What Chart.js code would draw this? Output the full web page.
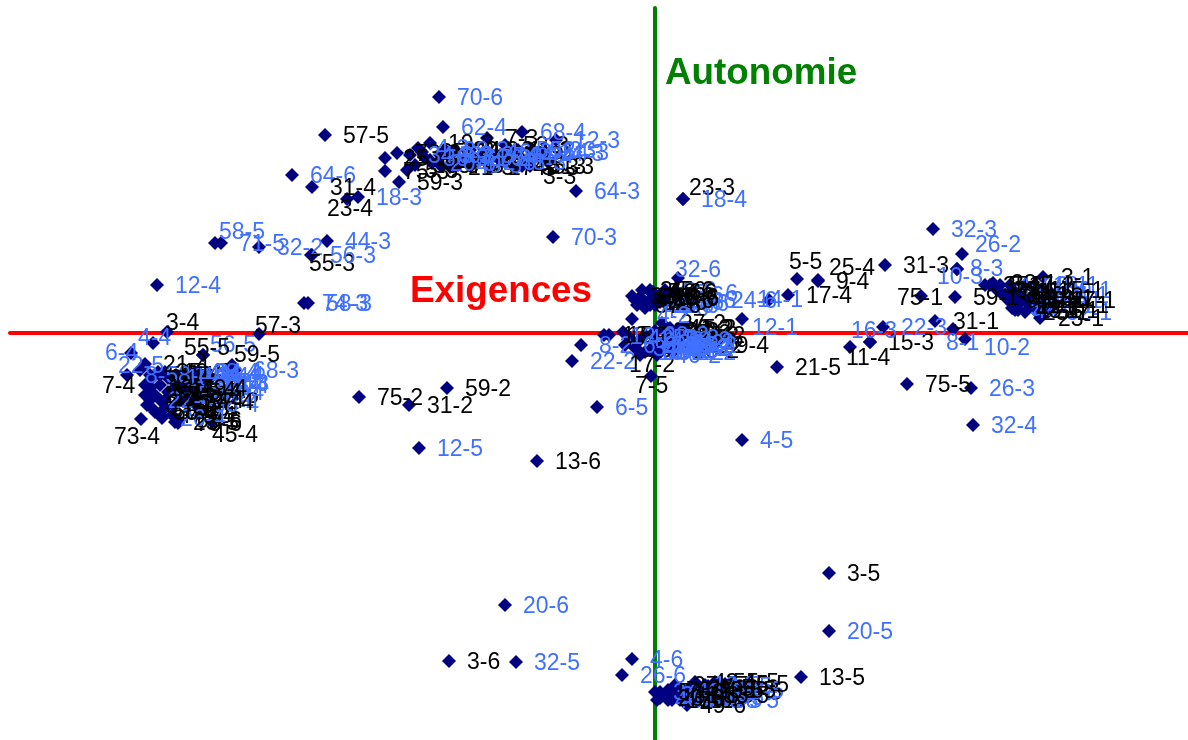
<!DOCTYPE html>
<html>
<head>
<meta charset="utf-8">
<title>Exigences / Autonomie</title>
<script src="https://cdn.jsdelivr.net/npm/chart.js@4/dist/chart.umd.min.js"></script>
<style>
    body { margin: 0; background: #fff; }
    canvas { display: block; }
</style>
</head>
<body>
<canvas id="myChart" width="1188" height="740"></canvas>
<script>
// Data (axis units, factors cross at 0,0)
const pointNames = [
    // scattered points
    '70-6', '62-4', '57-5', '64-6', '31-4', '23-4', '18-3', '58-5', '71-5', '32-2', '55-3', '56-3', '44-3', '12-4', '74-3', '58-3', '57-3', '64-3', '70-3',
    '75-2', '59-2', '31-2', '12-5', '13-6', '20-6', '3-6', '32-5', '4-6', '26-6', '6-5', '22-2', '8-2', '7-5',
    '23-3', '18-4', '32-6', '5-5', '25-4', '9-4', '31-3', '17-4', '14-1', '24-6', '12-1', '21-5', '4-5', '3-5', '20-5', '13-5',
    '11-4', '15-3', '16-3', '22-3', '31-1', '8-1', '10-2', '75-5', '26-3', '32-4', '75-1', '59-1', '32-3', '26-2', '10-3', '8-3',
    // top group
    '25-3', '75-3', '59-3', '19-3', '73-3', '5-3', '7-3', '13-3', '21-3', '9-3', '17-3', '11-3', '45-3', '3-3',
    '33-3', '35-3', '37-3', '39-3', '41-3', '43-3', '47-3', '49-3', '51-3', '53-3',
    '12-3', '68-4', '14-3', '4-3', '6-3', '20-3', '62-3', '71-3', '70-4', '74-4', '44-4',
    '34-3', '36-3', '38-3', '40-3', '42-3', '46-3', '48-3', '50-3', '52-3', '54-3',
    // left group
    '9-5', '11-5', '15-5', '17-5', '19-5', '25-5', '31-5', '73-5', '59-6', '75-6', '55-6',
    '33-4', '35-4', '37-4', '39-4', '41-4', '43-4', '47-4', '49-4', '51-4', '53-4',
    '22-5', '8-4', '10-4', '14-4', '16-4', '20-4', '24-3', '68-3', '22-4', '26-4', '58-4', '56-4', '4-4', '6-4', '56-5', '8-5',
    '34-4', '36-4', '38-4', '40-4', '42-4', '46-4', '48-4', '50-4',
    '3-4', '7-4', '73-4', '45-4', '55-5', '59-5', '21-4', '13-4', '15-4', '19-4', '5-4', '75-4', '59-4', '57-4', '55-4', '23-5',
    // centre, above the axis
    '10-6', '16-6', '22-6', '8-6', '58-6', '44-6', '34-6', '36-6', '38-6',
    '5-6', '7-6', '9-6', '11-6', '15-6', '19-6', '21-6', '25-6', '45-6', '33-6', '35-6', '37-6',
    // centre, on the axis
    '13-2', '15-2', '27-2', '3-2', '9-2', '5-2', '11-2', '19-2', '21-2', '23-2', '17-2', '29-4', '25-2',
    '33-2', '35-2', '37-2', '39-2', '41-2',
    '12-2', '4-2', '6-2', '14-2', '16-2', '18-2', '20-2', '24-2', '44-2', '56-2', '58-2', '62-2', '64-2', '68-2',
    '34-2', '36-2', '38-2', '40-2', '42-2', '46-2', '48-2', '50-2',
    // right group
    '4-1', '6-1', '10-1', '16-1', '18-1', '20-1', '22-1', '24-1', '26-1', '32-1', '44-1', '56-1',
    '3-1', '5-1', '7-1', '9-1', '11-1', '13-1', '15-1', '17-1', '19-1', '21-1', '23-1', '25-1', '45-1',
    '33-1', '35-1', '37-1', '39-1', '41-1', '43-1', '47-1', '49-1',
    // bottom group
    '34-5', '36-5', '38-5', '40-5',
    '37-5', '39-5', '41-5', '43-5', '47-5', '51-5', '53-5', '61-5',
    '68-5', '10-5', '14-5', '16-5', '18-5', '24-5', '44-5', '62-5', '64-5', '70-5',
    '57-6', '73-6', '31-6', '23-6', '17-6', '49-6', '45-5', '27-5', '29-5', '33-5', '35-5'
];
const pointX = [
    -2.16, -2.12, -3.30, -3.63, -3.43, -3.08, -2.97, -4.40, -4.34, -3.96, -3.44, -3.43, -3.28, -4.98, -3.51, -3.47, -3.96, -0.79, -1.02,
    -2.96, -2.08, -2.46, -2.36, -1.18, -1.50, -2.06, -1.39, -0.23, -0.33, -0.58, -0.83, -0.74, -0.04,
    0.28, 0.28, 0.23, 1.42, 1.63, 1.63, 2.30, 1.33, 1.14, 0.58, 0.87, 1.22, 0.87, 1.74, 1.74, 1.46,
    1.95, 2.15, 2.15, 2.28, 2.80, 2.98, 3.10, 2.52, 3.16, 3.18, 2.66, 3.00, 2.78, 3.07, 3.02, 3.02,

    -2.70, -2.70, -2.56, -2.25, -2.58, -2.48, -1.68, -2.25, -2.05, -1.85, -1.65, -1.45, -1.33, -1.07,
    -2.40, -2.33, -2.15, -2.00, -1.85, -1.75, -1.55, -1.40, -1.25, -1.50,
    -0.99, -1.33, -1.15, -2.37, -2.15, -2.23, -2.05, -1.90, -1.75, -1.60, -1.45,
    -2.45, -2.30, -2.10, -1.97, -1.83, -1.67, -1.53, -1.37, -1.23, -1.10,

    -5.03, -4.95, -5.10, -5.00, -4.90, -4.77, -5.03, -4.90, -4.77, -4.77, -4.60,
    -5.07, -4.97, -4.85, -5.08, -4.95, -4.87, -4.95, -4.83, -5.05, -4.80,
    -5.15, -4.95, -4.87, -4.79, -4.70, -4.60, -4.50, -4.20, -5.05, -4.93, -4.60, -4.75, -5.02, -5.24, -4.52, -5.28,
    -4.57, -4.55, -4.60, -4.58, -4.65, -4.50, -4.55, -4.67,
    -4.88, -5.10, -5.14, -4.43, -4.52, -4.23, -5.10, -5.05, -4.83, -4.72, -4.65, -4.90, -4.75, -4.65, -5.00, -4.80,

    0.05, 0.17, 0.00, 0.10, 0.19, -0.10, 0.10, 0.05, -0.05,
    -0.15, -0.05, -0.20, -0.10, 0.00, -0.02, -0.05, 0.00, -0.05, -0.23, -0.13, -0.18,

    -0.51, -0.46, 0.07, 0.10, 0.25, 0.30, 0.28, 0.10, 0.25, 0.20, -0.15, 0.50, 0.20,
    0.00, 0.12, 0.18, 0.05, 0.15,
    -0.32, -0.23, -0.30, -0.15, 0.00, -0.15, -0.05, 0.15, 0.15, 0.18, 0.12, -0.10, 0.05, 0.17,
    -0.20, -0.10, 0.05, 0.10, -0.25, 0.02, 0.12, 0.00,

    3.45, 3.57, 3.70, 3.65, 3.80, 3.93, 3.75, 3.90, 3.83, 3.93, 3.60, 3.57,
    3.88, 3.35, 3.45, 3.53, 3.63, 3.75, 3.85, 3.97, 3.90, 3.80, 3.85, 3.70, 3.60,
    3.38, 3.30, 3.42, 3.50, 3.57, 3.63, 3.55, 3.67,

    0.00, 0.08, 0.17, 0.02,
    0.20, 0.28, 0.35, 0.40, 0.50, 0.60, 0.63, 0.25,
    0.60, 0.25, 0.17, 0.30, 0.40, 0.45, 0.53, 0.65, 0.35, 0.43,
    0.05, 0.13, 0.20, 0.05, 0.13, 0.32, 0.70, 0.35, 0.45, 0.50, 0.57
];
const pointY = [
    2.36, 2.06, 1.98, 1.58, 1.46, 1.34, 1.36, 0.90, 0.90, 0.86, 0.78, 0.78, 0.92, 0.48, 0.30, 0.30, -0.01, 1.42, 0.96,
    -0.64, -0.55, -0.72, -1.15, -1.28, -2.72, -3.28, -3.29, -3.26, -3.42, -0.74, -0.28, -0.12, -0.43,
    1.34, 1.34, 0.55, 0.54, 0.53, 0.52, 0.68, 0.38, 0.33, 0.33, 0.14, -0.34, -1.07, -2.40, -2.98, -3.44,
    -0.14, -0.09, -0.09, 0.06, 0.12, 0.04, -0.06, -0.51, -0.55, -0.92, 0.37, 0.36, 1.04, 0.79, 0.64, 0.64,

    1.75, 1.62, 1.51, 1.90, 1.80, 1.63, 1.95, 1.73, 1.66, 1.68, 1.66, 1.83, 1.67, 1.71,
    1.68, 1.81, 1.68, 1.83, 1.83, 1.73, 1.78, 1.66, 1.67, 1.88,
    1.93, 2.01, 1.80, 1.85, 1.78, 1.70, 1.78, 1.75, 1.75, 1.77, 1.78,
    1.78, 1.75, 1.83, 1.68, 1.71, 1.81, 1.71, 1.83, 1.83, 1.81,

    -0.45, -0.52, -0.62, -0.62, -0.39, -0.52, -0.75, -0.75, -0.87, -0.90, -0.62,
    -0.52, -0.39, -0.45, -0.72, -0.67, -0.59, -0.82, -0.82, -0.42, -0.72,
    -0.37, -0.42, -0.45, -0.42, -0.43, -0.45, -0.50, -0.37, -0.67, -0.85, -0.71, -0.62, -0.10, -0.20, -0.22, -0.42,
    -0.39, -0.42, -0.39, -0.52, -0.52, -0.52, -0.59, -0.65,
    0.01, -0.52, -0.86, -0.89, -0.22, -0.32, -0.31, -0.55, -0.57, -0.55, -0.59, -0.67, -0.67, -0.69, -0.79, -0.89,

    0.31, 0.33, 0.28, 0.43, 0.40, 0.25, 0.30, 0.38, 0.28,
    0.36, 0.41, 0.33, 0.31, 0.36, 0.41, 0.33, 0.35, 0.43, 0.37, 0.43, 0.28,

    -0.02, -0.02, 0.10, 0.03, 0.05, 0.05, -0.02, -0.07, -0.12, -0.17, -0.22, -0.12, -0.02,
    0.02, 0.00, -0.08, -0.12, 0.05,
    0.01, 0.14, -0.12, -0.07, -0.12, -0.19, -0.17, -0.09, -0.15, -0.12, -0.07, -0.02, -0.19, -0.19,
    -0.15, -0.19, -0.10, -0.15, -0.05, -0.22, -0.14, -0.05,

    0.48, 0.43, 0.48, 0.38, 0.48, 0.43, 0.28, 0.38, 0.33, 0.21, 0.23, 0.25,
    0.56, 0.48, 0.41, 0.33, 0.28, 0.35, 0.43, 0.33, 0.28, 0.23, 0.15, 0.21, 0.41,
    0.50, 0.48, 0.43, 0.38, 0.33, 0.23, 0.48, 0.33,

    -3.59, -3.62, -3.67, -3.67,
    -3.52, -3.57, -3.62, -3.49, -3.52, -3.49, -3.59, -3.67,
    -3.67, -3.59, -3.64, -3.64, -3.52, -3.64, -3.53, -3.57, -3.59, -3.67,
    -3.59, -3.57, -3.62, -3.65, -3.67, -3.72, -3.51, -3.55, -3.57, -3.62, -3.57
];
// Items whose labels are blue, all others are black
const blueItems = [4, 6, 8, 10, 12, 14, 16, 18, 20, 22, 24, 26, 32, 34, 36, 38, 40, 42, 44, 46, 48, 50, 52, 54, 56, 58, 62, 64, 68, 70, 71, 74];

const axisEnds = { x: [-6.45, 5.33], y: [-4.07, 3.25] };
const factorNames = ['Exigences', 'Autonomie'];
const factorX = [-2.45, 0.10];
const factorY = [0.41, 2.59];

// Labels go to the right of the point unless listed here: [dx, dy] in px
const labelOffset = {
    '3-4': [-1, -8], '4-4': [-15, -4], '6-4': [-26, 1], '22-5': [-22, -3], '7-4': [-43, 2], '73-4': [-27, 19],
    '45-4': [0, 14], '55-5': [-19, -6], '56-5': [7, -9], '59-5': [2, -9], '57-3': [-4, -7], '58-5': [4, -10],
    '23-4': [-20, 11], '55-3': [-2, 10], '75-1': [-24, 3], '10-3': [-20, 9], '8-3': [13, 1], '26-2': [13, -8],
    '16-3': [-19, -10], '11-4': [-4, 12], '8-1': [-7, 15], '10-2': [19, 10], '23-3': [6, -10], '32-6': [-3, -7],
    '5-5': [-8, -16], '25-4': [11, -11], '7-5': [-16, 11], '12-1': [10, 10], '14-1': [-12, 1], '3-3': [-5, 16],
    '17-2': [-11, 11], '12-2': [7, 6], '4-2': [25, -2], '49-6': [13, 2]
};

const pointLabels = {
    id: 'pointLabels',
    afterDatasetsDraw(chart) {
        const ctx = chart.ctx;
        const xScale = chart.scales.x;
        const yScale = chart.scales.y;
        ctx.save();
        ctx.textBaseline = 'middle';
        ctx.textAlign = 'left';
        ctx.font = '23px "Liberation Sans"';
        pointNames.forEach((name, i) => {
            const off = labelOffset[name] || [18, 2];
            ctx.fillStyle = blueItems.includes(parseInt(name)) ? '#4070ff' : '#000';
            ctx.fillText(name, xScale.getPixelForValue(pointX[i]) + off[0], yScale.getPixelForValue(pointY[i]) + off[1]);
        });
        ctx.font = 'bold 36.8px "Liberation Sans"';
        factorNames.forEach((name, i) => {
            ctx.fillStyle = i === 0 ? '#ff0000' : '#008000';
            ctx.fillText(name, xScale.getPixelForValue(factorX[i]), yScale.getPixelForValue(factorY[i]));
        });
        ctx.restore();
    }
};

new Chart(document.getElementById('myChart').getContext('2d'), {
    type: 'scatter',
    data: {
        datasets: [
            {
                data: pointX.map((x, i) => ({ x: x, y: pointY[i] })),
                pointStyle: 'rectRot',
                pointRadius: 7,
                backgroundColor: '#000080',
                borderWidth: 0,
                order: 1
            },
            {
                data: [{ x: axisEnds.x[0], y: 0 }, { x: axisEnds.x[1], y: 0 }],
                showLine: true,
                pointRadius: 0,
                borderColor: '#ff0000',
                borderWidth: 4,
                borderCapStyle: 'round',
                order: 2
            },
            {
                data: [{ x: 0, y: axisEnds.y[0] }, { x: 0, y: axisEnds.y[1] }],
                showLine: true,
                pointRadius: 0,
                borderColor: '#008000',
                borderWidth: 4,
                borderCapStyle: 'round',
                order: 2
            }
        ]
    },
    options: {
        responsive: false,
        animation: false,
        layout: { padding: 0, autoPadding: false },
        plugins: { legend: { display: false }, tooltip: { enabled: false }, title: { display: false } },
        scales: {
            x: { display: false, min: -6.55, max: 5.33 },
            y: { display: false, min: -4.07, max: 3.33 }
        }
    },
    plugins: [pointLabels]
});
</script>
</body>
</html>
